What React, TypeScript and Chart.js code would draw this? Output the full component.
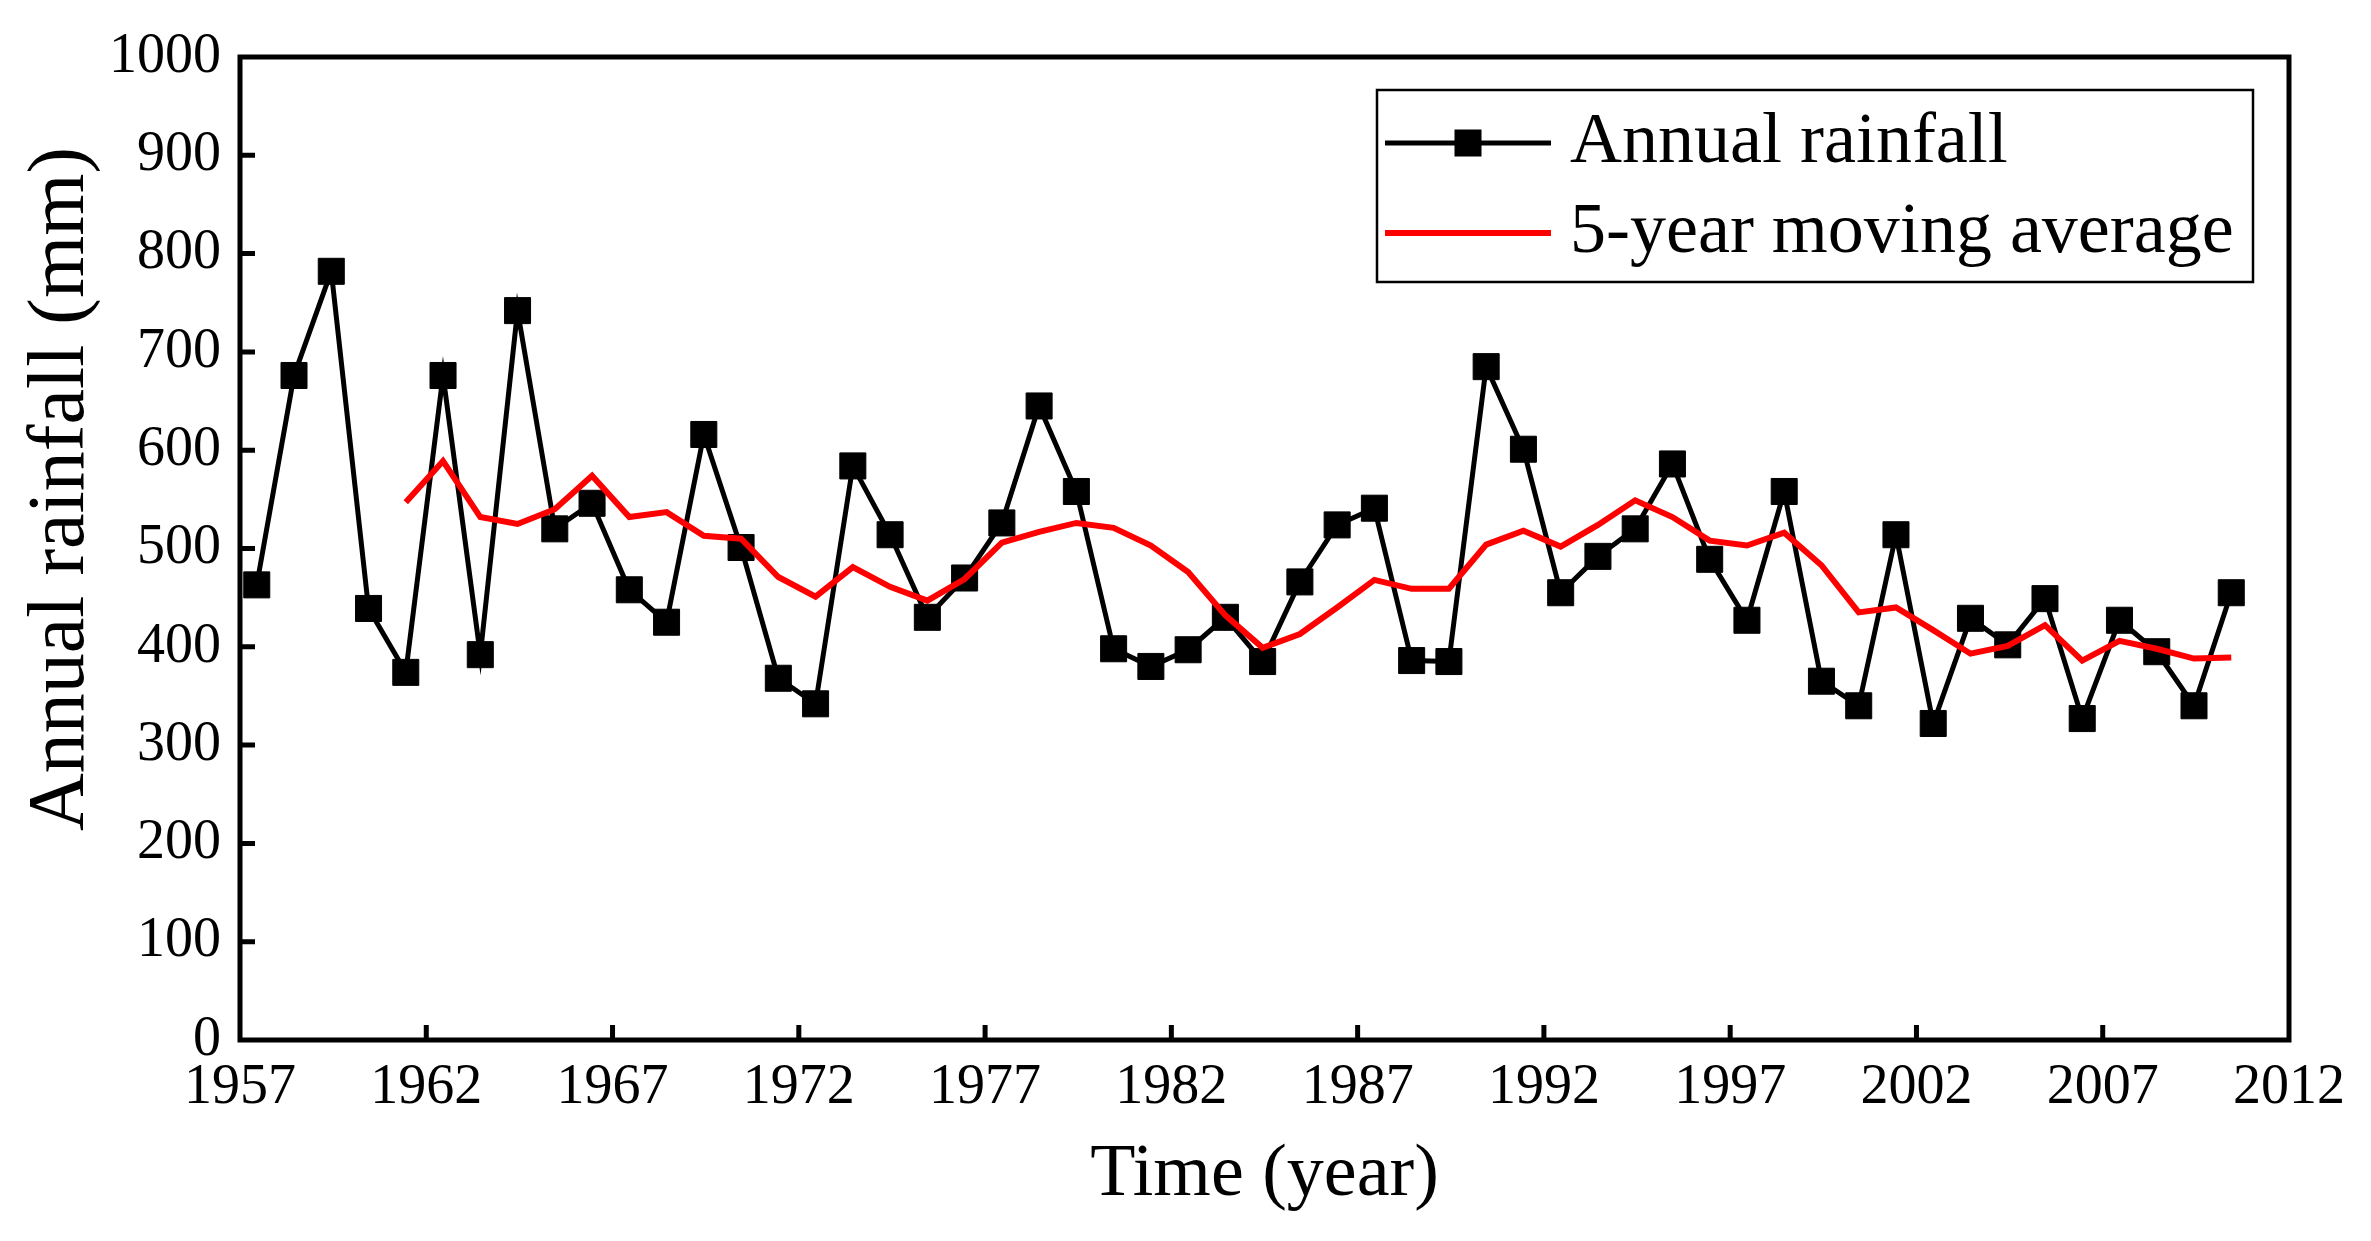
import React, { useEffect, useRef } from 'react';
import { Chart, registerables } from 'chart.js';

Chart.register(...registerables);

// ---------- data ----------
const years = [
  1957, 1958, 1959, 1960, 1961, 1962, 1963, 1964, 1965, 1966,
  1967, 1968, 1969, 1970, 1971, 1972, 1973, 1974, 1975, 1976,
  1977, 1978, 1979, 1980, 1981, 1982, 1983, 1984, 1985, 1986,
  1987, 1988, 1989, 1990, 1991, 1992, 1993, 1994, 1995, 1996,
  1997, 1998, 1999, 2000, 2001, 2002, 2003, 2004, 2005, 2006,
  2007, 2008, 2009, 2010,
];

const annualRainfall = [
  463, 676, 782, 439, 374, 676, 392, 742, 520, 546,
  458, 425, 616, 501, 368, 342, 584, 514, 430, 470,
  526, 645, 558, 398, 380, 397, 430, 385, 466, 524,
  541, 386, 385, 685, 601, 455, 492, 520, 586, 489,
  427, 558, 365, 340, 514, 322, 429, 402, 449, 327,
  427, 395, 340, 455,
];

const maYears = [
  1961, 1962, 1963, 1964, 1965, 1966, 1967, 1968, 1969, 1970,
  1971, 1972, 1973, 1974, 1975, 1976, 1977, 1978, 1979, 1980,
  1981, 1982, 1983, 1984, 1985, 1986, 1987, 1988, 1989, 1990,
  1991, 1992, 1993, 1994, 1995, 1996, 1997, 1998, 1999, 2000,
  2001, 2002, 2003, 2004, 2005, 2006, 2007, 2008, 2009, 2010,
];

const movingAverage = [
  547, 589, 532, 525, 540, 574, 532, 537, 513, 510,
  471, 451, 481, 461, 447, 469, 506, 517, 526, 521,
  503, 476, 432, 399, 413, 440, 468, 459, 459, 504,
  518, 502, 524, 549, 532, 508, 503, 516, 483, 435,
  440, 417, 393, 401, 422, 386, 406, 398, 388, 389,
];

const xTickLabels = [1957, 1962, 1967, 1972, 1977, 1982, 1987, 1992, 1997, 2002, 2007, 2012];
const yTickLabels = [0, 100, 200, 300, 400, 500, 600, 700, 800, 900, 1000];

// points sit at mid-year in the original figure
const YEAR_OFFSET = 0.45;

const seriesNames = ['Annual rainfall', '5-year moving average'];
const yAxisTitle = 'Annual rainfall (mm)';
const xAxisTitle = 'Time (year)';

const FONT = "'Liberation Serif', 'Times New Roman', serif";

const frameAndLegend = {
  id: 'frameAndLegend',
  afterDraw(chart: any) {
    const { ctx, chartArea: a, scales } = chart;
    ctx.save();
    // inward ticks
    ctx.strokeStyle = '#000';
    ctx.lineWidth = 5;
    ctx.lineCap = 'butt';
    ctx.beginPath();
    xTickLabels.forEach((v) => {
      if (v === xTickLabels[0] || v === xTickLabels[xTickLabels.length - 1]) return;
      const px = scales.x.getPixelForValue(v);
      ctx.moveTo(px, a.bottom);
      ctx.lineTo(px, a.bottom - 15);
    });
    yTickLabels.forEach((v) => {
      if (v === yTickLabels[0] || v === yTickLabels[yTickLabels.length - 1]) return;
      const py = scales.y.getPixelForValue(v);
      ctx.moveTo(a.left, py);
      ctx.lineTo(a.left + 15, py);
    });
    ctx.stroke();
    // frame
    ctx.lineJoin = 'miter';
    ctx.strokeRect(a.left, a.top, a.right - a.left, a.bottom - a.top);

    // y axis title (placed as in the original, above the axis centre)
    ctx.save();
    ctx.translate(62, 489);
    ctx.rotate(-Math.PI / 2);
    ctx.fillStyle = '#000';
    ctx.font = `80px ${FONT}`;
    ctx.textAlign = 'center';
    ctx.textBaseline = 'middle';
    ctx.fillText(yAxisTitle, 0, 0);
    ctx.restore();

    // legend
    const bx = 1377, by = 90, bw = 876, bh = 192;
    ctx.fillStyle = '#fff';
    ctx.fillRect(bx, by, bw, bh);
    ctx.lineWidth = 2.5;
    ctx.strokeStyle = '#000';
    ctx.strokeRect(bx, by, bw, bh);

    const rows = [143, 233];
    const lx0 = 1385, lx1 = 1551;
    const ds = chart.data.datasets;
    rows.forEach((ry, i) => {
      const d = ds[i];
      ctx.strokeStyle = d.borderColor;
      ctx.lineWidth = d.borderWidth;
      ctx.beginPath();
      ctx.moveTo(lx0, ry);
      ctx.lineTo(lx1, ry);
      ctx.stroke();
      if (i === 0) {
        ctx.fillStyle = '#000';
        ctx.fillRect((lx0 + lx1) / 2 - 13.5, ry - 13.5, 27, 27);
      }
      ctx.fillStyle = '#000';
      ctx.font = `72px ${FONT}`;
      ctx.textBaseline = 'middle';
      ctx.textAlign = 'left';
      ctx.fillText(seriesNames[i], 1570, ry);
    });
    ctx.restore();
  },
};

export default function App() {
  const ref = useRef<HTMLCanvasElement | null>(null);

  useEffect(() => {
    document.body.style.margin = '0';
    const canvas = ref.current;
    if (!canvas) return;
    const chart = new Chart(canvas, {
      type: 'line',
      data: {
        datasets: [
          {
            label: seriesNames[0],
            data: years.map((y, i) => ({ x: y + YEAR_OFFSET, y: annualRainfall[i] })),
            borderColor: '#000000',
            borderWidth: 5,
            pointStyle: 'rect',
            pointRadius: 18.4,
            pointBackgroundColor: '#000000',
            pointBorderColor: '#000000',
            pointBorderWidth: 1,
            tension: 0,
            order: 1,
          },
          {
            label: seriesNames[1],
            data: maYears.map((y, i) => ({ x: y + YEAR_OFFSET, y: movingAverage[i] })),
            borderColor: '#ff0000',
            borderWidth: 6,
            pointRadius: 0,
            tension: 0,
            order: 0,
          },
        ],
      },
      options: {
        responsive: false,
        animation: false,
        devicePixelRatio: 1,
        layout: { padding: { left: 0, top: 57, right: 82, bottom: 0 } },
        plugins: { legend: { display: false }, tooltip: { enabled: false } },
        scales: {
          x: {
            type: 'linear',
            min: 1957,
            max: 2012,
            afterBuildTicks: (s: any) => {
              s.ticks = xTickLabels.map((v) => ({ value: v }));
            },
            afterFit: (s: any) => {
              s.height = 201;
            },
            grid: { display: false, drawTicks: false },
            border: { display: false },
            ticks: {
              color: '#000',
              padding: 15,
              maxRotation: 0,
              autoSkip: false,
              font: { family: FONT, size: 56 },
              callback: (v: any) => String(v),
            },
            title: {
              display: true,
              text: xAxisTitle,
              color: '#000',
              font: { family: FONT, size: 74, lineHeight: 1.2 },
              padding: { top: 0, bottom: 21 },
            },
          },
          y: {
            type: 'linear',
            min: 0,
            max: 1000,
            afterBuildTicks: (s: any) => {
              s.ticks = yTickLabels.map((v) => ({ value: v }));
            },
            afterFit: (s: any) => {
              s.width = 240;
            },
            grid: { display: false, drawTicks: false },
            border: { display: false },
            ticks: {
              color: '#000',
              padding: 19,
              autoSkip: false,
              font: { family: FONT, size: 56 },
              callback: (v: any) => String(v),
            },
            title: { display: false },
          },
        },
      },
      plugins: [frameAndLegend],
    } as any);
    return () => chart.destroy();
  }, []);

  return (
    <div style={{ position: 'absolute', left: 0, top: 0, width: 2371, height: 1241, background: '#fff' }}>
      <canvas ref={ref} width={2371} height={1241} style={{ display: 'block' }} />
    </div>
  );
}
